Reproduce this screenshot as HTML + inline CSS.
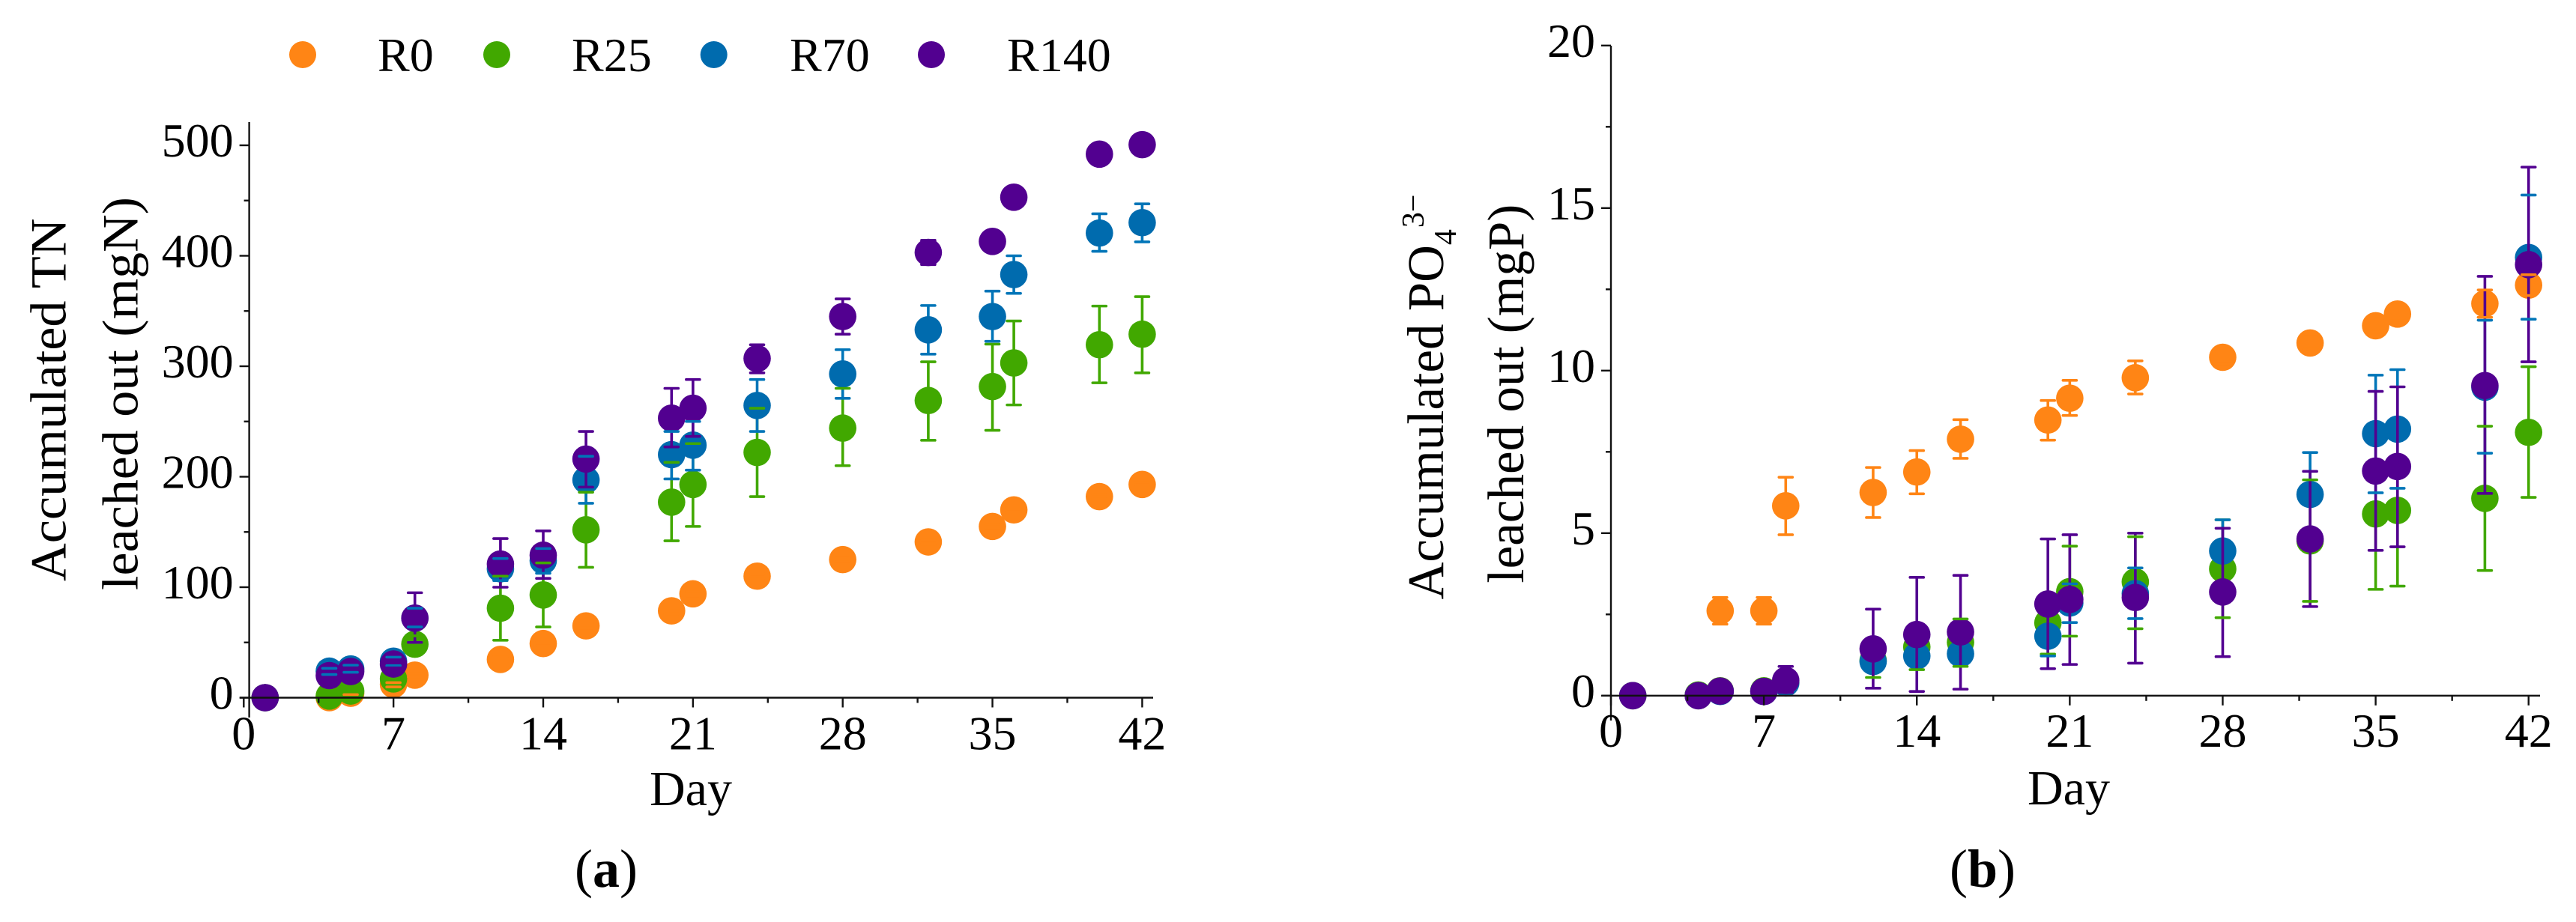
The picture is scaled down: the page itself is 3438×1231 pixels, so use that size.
<!DOCTYPE html>
<html lang="en">
<head>
<meta charset="utf-8">
<title>Accumulated TN and PO4 leached out</title>
<style>
html,body{margin:0;padding:0;background:#fff;}
svg{display:block;}
text{font-family:"Liberation Serif",serif;fill:#000;}
</style>
</head>
<body>
<svg id="figure" xmlns="http://www.w3.org/2000/svg" width="3438" height="1231" viewBox="0 0 3438 1231">
  <rect x="0" y="0" width="3438" height="1231" fill="#fff"/>
  <g id="legend" font-size="64">
    <g>
      <circle cx="404" cy="73" r="18" fill="#FF8515"/>
      <text x="504" y="95">R0</text>
    </g>
    <g>
      <circle cx="663" cy="73" r="18" fill="#41A800"/>
      <text x="763" y="95">R25</text>
    </g>
    <g>
      <circle cx="952.7" cy="73" r="18" fill="#006BAE"/>
      <text x="1054" y="95">R70</text>
    </g>
    <g>
      <circle cx="1243" cy="73" r="18" fill="#520090"/>
      <text x="1344" y="95">R140</text>
    </g>
  </g>

  <g id="panelA"></g>
  <g id="panelB"></g>

  <text transform="translate(87.5,776) rotate(-90)" font-size="68" textLength="484.5" lengthAdjust="spacingAndGlyphs">Accumulated TN</text>
  <text transform="translate(183.5,788) rotate(-90)" font-size="68" textLength="525" lengthAdjust="spacingAndGlyphs">leached out (mgN)</text>
  <text x="922" y="1075" font-size="66" text-anchor="middle">Day</text>
  <text x="809" y="1184" font-size="72" text-anchor="middle">(<tspan font-weight="bold">a</tspan>)</text>

  <text transform="translate(1926,800.4) rotate(-90)" font-size="69">Accumulated PO<tspan font-size="42" dy="17">4</tspan><tspan font-size="42" dx="2" dy="-43">3−</tspan></text>
  <text transform="translate(2033,778.6) rotate(-90)" font-size="69">leached out (mgP)</text>
  <text x="2761" y="1074" font-size="66" text-anchor="middle">Day</text>
  <text x="2646" y="1184" font-size="72" text-anchor="middle">(<tspan font-weight="bold">b</tspan>)</text>
</svg>
<script>
const n = null;
const days = [1,4,5,7,8,12,14,16,20,21,24,28,32,35,36,40,42];
const xTicks = [0,7,14,21,28,35,42];
const xMinorTicks = [3.5,10.5,17.5,24.5,31.5,38.5];
const seriesNames = ['R0','R25','R70','R140'];

// Panel (a): accumulated TN (mgN)
const tnTicks = [0,100,200,300,400,500];
const tnMinorTicks = [50,150,250,350,450];
const tnR0 = [0,0,4,12,20.4,34.6,49,65,78.6,94,110,125,141,155,170,182,193];
const tnR0Hi = [n,n,n,13.6,22,37,51,67,81,96,112,127,143,157,172,184,195];
const tnR0Lo = [n,n,2.8,9.7,19,32,47,63,76,92,108,123,139,153,168,180,191];
const tnR25 = [0,1.5,6,17,48.4,81,93,152,177,193,222,244,269,281.6,303,319.5,329];
const tnR25Hi = [n,n,n,n,56,110,122,186,213,230,262,280,304,320,341,354.5,363];
const tnR25Lo = [n,n,n,n,41,52,64,118,142,155,182,210,233,242,265,285,294];
const tnR70 = [0,24,26,33,72,116.7,124,197,220,228.6,264.5,293,333,345,383,420.6,430];
const tnR70Hi = [n,26.6,29.4,36.7,81,126,135,218.5,241,250,288,315,355,368,400,438,447];
const tnR70Lo = [n,21,23,29,64,106,112.6,176,198,206,241,271,311,322.6,366,404,412.6];
const tnR140 = [0,20,23.7,30.5,72,121,129,216,253,262,307,345,403,413,453,492,500.6];
const tnR140Hi = [n,24,27,34,95,144,151,241,280,288,319.5,361,414,418,456,495,503];
const tnR140Lo = [n,16,20,27,50,100,108,190.6,227,236.5,294,329,392,408,450,489,498];

// Panel (b): accumulated PO4 3- (mgP)
const poTicks = [0,5,10,15,20];
const poMinorTicks = [2.5,7.5,12.5,17.5];
const poR0 = [0,0,2.61,2.61,5.84,6.25,6.88,7.89,8.48,9.15,9.78,10.41,10.85,11.38,11.74,12.06,12.63];
const poR0Hi = [n,n,3.02,3.02,6.72,7.02,7.54,8.49,9.08,9.7,10.3,10.6,11.05,11.58,11.94,12.48,12.95];
const poR0Lo = [n,n,2.2,2.2,4.95,5.48,6.21,7.3,7.86,8.62,9.28,10.2,10.65,11.18,11.54,11.64,12.31];
const poR25 = [0,0.02,0.15,0.15,0.42,1.08,1.5,1.64,2.24,3.2,3.5,3.9,4.76,5.59,5.7,6.07,8.1];
const poR25Hi = [n,n,n,n,n,n,n,2.36,n,4.6,4.89,5.41,6.64,n,n,8.29,10.12];
const poR25Lo = [n,n,n,n,n,0.56,0.8,0.9,1.28,1.83,2.06,2.4,2.9,3.27,3.37,3.85,6.1];
const poR70 = [0,0,0.13,0.13,0.39,1.05,1.22,1.29,1.83,2.85,3.14,4.45,6.19,8.06,8.2,9.49,13.48];
const poR70Hi = [n,n,n,n,n,n,n,n,n,3.44,3.93,5.41,7.48,9.86,10.03,11.55,15.4];
const poR70Lo = [n,n,n,n,n,n,n,n,1.22,2.25,2.37,n,n,6.24,6.38,7.46,11.58];
const poR140 = [0,0,0.14,0.13,0.47,1.44,1.88,1.96,2.82,2.96,3.02,3.19,4.82,6.91,7.05,9.54,13.26];
const poR140Hi = [n,n,n,n,0.9,2.66,3.64,3.7,4.82,4.95,5.0,5.15,6.9,9.36,9.5,12.9,16.26];
const poR140Lo = [n,n,n,n,0.1,0.23,0.13,0.2,0.83,0.96,1.0,1.2,2.74,4.47,4.58,6.22,10.27];

const seriesColors = ['#FF8515','#41A800','#006BAE','#520090'];
const capColors = ['#FF8515','#41A800','#0075B8','#520090'];
const NS = 'http://www.w3.org/2000/svg';

function line(parent, x1, y1, x2, y2, color, width, round) {
  const el = document.createElementNS(NS, 'line');
  el.setAttribute('x1', x1);
  el.setAttribute('y1', y1);
  el.setAttribute('x2', x2);
  el.setAttribute('y2', y2);
  el.setAttribute('stroke', color);
  el.setAttribute('stroke-width', width);
  if (round) el.setAttribute('stroke-linecap', 'round');
  parent.appendChild(el);
  return el;
}

function label(parent, x, y, str, anchor, size) {
  const el = document.createElementNS(NS, 'text');
  el.setAttribute('x', x);
  el.setAttribute('y', y);
  el.setAttribute('text-anchor', anchor);
  el.setAttribute('font-size', size);
  el.textContent = str;
  parent.appendChild(el);
  return el;
}

function drawPanel(cfg) {
  const root = document.getElementById(cfg.id);
  const X = d => cfg.x0 + cfg.xk * d;
  const Y = v => cfg.y0 - cfg.yk * v;
  const capLayer = document.createElementNS(NS, 'g');
  
  

  cfg.series.forEach((s, si) => {
    const group = document.createElementNS(NS, 'g');
    
    
    root.appendChild(group);
    days.forEach((d, i) => {
      const px = X(d);
      const hi = s.hi[i];
      const lo = s.lo[i];
      if (hi !== null || lo !== null) {
        const bar = line(group, px, Y(hi !== null ? hi : s.v[i]), px, Y(lo !== null ? lo : s.v[i]), capColors[si], 3.6, false);
        
        
      }
      const dot = document.createElementNS(NS, 'circle');
      dot.setAttribute('cx', px);
      dot.setAttribute('cy', Y(s.v[i]));
      dot.setAttribute('r', 18.3);
      dot.setAttribute('fill', seriesColors[si]);
      
      
      group.appendChild(dot);
      [hi, lo].forEach(c => {
        if (c === null) return;
        const cap = line(capLayer, px - 9, Y(c), px + 9, Y(c), capColors[si], 3.6, true);
        
        
      });
    });
  });
  root.appendChild(capLayer);

  const axes = document.createElementNS(NS, 'g');
  
  
  root.appendChild(axes);

  const yAxis = line(axes, cfg.axisX, cfg.axisTop, cfg.axisX, cfg.axisBottom, '#111', 2.4, false);
  
  
  const xAxis = line(axes, cfg.xAxisStart, Y(0), cfg.xAxisEnd, Y(0), '#111', 2.4, false);
  
  

  cfg.yTicks.forEach(v => {
    const t = line(axes, cfg.axisX - 13, Y(v), cfg.axisX, Y(v), '#111', 2.4, false);
    
    
    const l = label(axes, cfg.axisX - 21, Y(v) + 15, String(v), 'end', 64);
    
    
  });
  cfg.yMinor.forEach(v => {
    const t = line(axes, cfg.axisX - 7, Y(v), cfg.axisX, Y(v), '#111', 2.4, false);
    
    
  });
  xTicks.forEach(d => {
    const t = line(axes, X(d), Y(0), X(d), Y(0) + 13, '#111', 2.4, false);
    
    
    const l = label(axes, X(d), cfg.xLabelY, String(d), 'middle', 64);
    
    
  });
  xMinorTicks.forEach(d => {
    const t = line(axes, X(d), Y(0), X(d), Y(0) + 7, '#111', 2.4, false);
    
    
  });
}

drawPanel({
  id: 'panelA', prefix: 'panel-a',
  x0: 325.3, xk: 28.55, y0: 931.5, yk: 1.475,
  axisX: 332.6, axisTop: 163, axisBottom: 958,
  xAxisStart: 320, xAxisEnd: 1539, xLabelY: 1000.5,
  yTicks: tnTicks, yMinor: tnMinorTicks,
  series: [
    {v: tnR0, hi: tnR0Hi, lo: tnR0Lo},
    {v: tnR25, hi: tnR25Hi, lo: tnR25Lo},
    {v: tnR70, hi: tnR70Hi, lo: tnR70Lo},
    {v: tnR140, hi: tnR140Hi, lo: tnR140Lo}
  ]
});

drawPanel({
  id: 'panelB', prefix: 'panel-b',
  x0: 2150, xk: 29.16, y0: 928.8, yk: 43.4,
  axisX: 2150, axisTop: 61, axisBottom: 962,
  xAxisStart: 2138, xAxisEnd: 3390, xLabelY: 997,
  yTicks: poTicks, yMinor: poMinorTicks,
  series: [
    {v: poR0, hi: poR0Hi, lo: poR0Lo},
    {v: poR25, hi: poR25Hi, lo: poR25Lo},
    {v: poR70, hi: poR70Hi, lo: poR70Lo},
    {v: poR140, hi: poR140Hi, lo: poR140Lo}
  ]
});
</script>
</body>
</html>
